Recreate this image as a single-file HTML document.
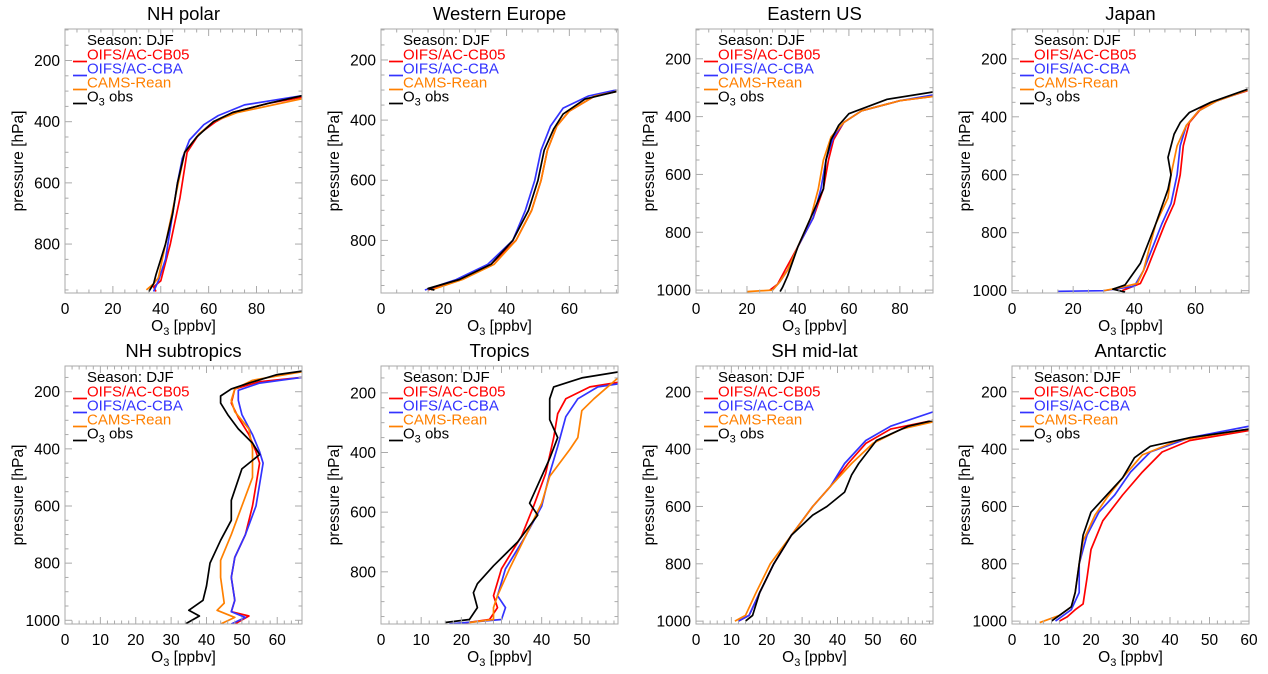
<!DOCTYPE html>
<html><head><meta charset="utf-8">
<style>
body{margin:0;background:#fff;}
svg{display:block;font-family:"Liberation Sans",Arial,sans-serif;}
</style></head>
<body>
<svg id="fig" width="1268" height="674" viewBox="0 0 1268 674" xmlns="http://www.w3.org/2000/svg"></svg>
<script>
// ---- data: [O3 ppbv, pressure hPa] ----
const nhPolarObs=[[35,955],[37,930],[38,900],[42,800],[45,700],[47,600],[50,500],[55,450],[62,400],[70,370],[85,340],[99,315]];
const nhPolarCB05=[[38,955],[37,940],[40,920],[44,800],[48,650],[51,500],[56,440],[63,400],[70,370],[85,340],[99,320]];
const nhPolarCBA=[[37,955],[39,920],[42,850],[44,750],[47,600],[49,520],[52,460],[58,410],[64,380],[75,345],[99,315]];
const nhPolarCAMS=[[34,950],[37,930],[39,910],[42,800],[46,650],[50,500],[56,440],[62,400],[72,370],[99,325]];

const weObs=[[17,965],[15,960],[25,930],[35,880],[42,800],[47,700],[50,600],[52,500],[55,430],[58,380],[65,330],[75,305]];
const weCB05=[[15,965],[25,930],[35,880],[43,800],[48,700],[51,600],[53,500],[56,420],[60,370],[68,320],[75,305]];
const weCBA=[[14,965],[24,930],[34,880],[42,800],[46,700],[49,600],[51,500],[54,420],[58,360],[66,320],[75,300]];
const weCAMS=[[16,965],[26,930],[36,880],[43,800],[48,700],[51,600],[53,500],[56,420],[60,370],[68,320],[75,305]];

const eusObs=[[33,1005],[34,990],[36,950],[40,850],[45,750],[50,650],[51,550],[53,480],[56,430],[60,390],[75,340],[93,315]];
const eusCB05=[[29,1000],[32,980],[35,930],[40,850],[46,750],[50,650],[52,550],[54,480],[58,420],[65,380],[80,345],[93,330]];
const eusCBA=[[30,1000],[33,970],[36,930],[40,850],[46,750],[49,650],[51,550],[54,470],[58,420],[65,380],[80,345],[93,325]];
const eusCAMS=[[20,1005],[30,1000],[33,970],[36,930],[40,850],[45,750],[48,650],[50,550],[53,470],[58,420],[65,380],[80,345],[93,330]];

const jpObs=[[37,1005],[33,995],[37,980],[42,905],[47,770],[51,650],[52,600],[51,540],[53,460],[55,420],[58,385],[65,350],[77,305]];
const jpCB05=[[36,1000],[42,975],[44,930],[47,850],[50,770],[53,700],[55,600],[56,500],[58,420],[62,370],[68,340],[77,310]];
const jpCBA=[[15,1002],[30,1000],[40,985],[43,930],[46,850],[49,770],[52,700],[54,600],[55,500],[57,430],[61,380],[67,345],[77,308]];
const jpCAMS=[[30,1000],[35,990],[41,975],[43,930],[45,850],[47,770],[51,680],[52,600],[54,500],[57,430],[61,380],[67,345],[77,308]];

const stObs=[[34,1013],[38,985],[35,965],[39,930],[40,880],[41,800],[44,720],[47,650],[47,580],[50,470],[55,420],[53,380],[49,330],[46,280],[44,240],[44,215],[47,190],[52,170],[60,140],[67,128]];
const stCB05=[[48,1013],[52,985],[47,970],[48,930],[47,850],[48,780],[51,700],[53,600],[55,450],[54,410],[52,350],[49,290],[47,240],[48,190],[55,165],[67,150]];
const stCBA=[[47,1013],[51,990],[47,970],[48,930],[47,850],[48,780],[51,700],[54,600],[56,450],[55,410],[53,350],[50,280],[49,230],[49,195],[55,170],[67,150]];
const stCAMS=[[44,1013],[48,990],[43,965],[45,940],[44,850],[44,790],[47,700],[50,600],[53,500],[53,400],[52,330],[48,270],[47,230],[48,190],[53,160],[67,130]];

const trObs=[[16,970],[22,960],[24,920],[23,870],[24,840],[28,780],[34,700],[39,610],[37,570],[41,450],[42,420],[44,350],[42,290],[42,220],[43,180],[50,150],[59,130]];
const trCB05=[[19,975],[27,960],[29,920],[28,880],[30,790],[35,680],[38,580],[41,470],[43,350],[44,270],[46,220],[52,180],[59,165]];
const trCBA=[[17,975],[30,960],[31,920],[29,880],[31,790],[36,680],[40,580],[42,470],[44,380],[46,280],[49,220],[54,180],[59,170]];
const trCAMS=[[22,970],[28,960],[28,920],[29,880],[32,790],[36,680],[40,570],[42,480],[47,390],[49,350],[50,260],[53,220],[59,150]];

const shObs=[[14,1000],[16,980],[18,900],[22,800],[27,700],[33,630],[37,600],[42,550],[44,490],[46,450],[51,370],[60,320],[67,300]];
const shCB05=[[12,1000],[15,980],[18,900],[22,800],[27,700],[33,600],[38,530],[43,450],[48,380],[55,330],[67,300]];
const shCBA=[[12,1000],[15,980],[18,900],[22,800],[27,700],[33,600],[38,530],[42,450],[48,370],[55,320],[67,270]];
const shCAMS=[[11,1000],[14,980],[17,900],[21,800],[27,700],[33,600],[38,530],[44,450],[50,380],[58,330],[67,305]];

const anObs=[[10,1000],[12,980],[15,950],[16,900],[17,800],[18,700],[20,620],[24,560],[28,500],[31,430],[35,390],[45,360],[60,330]];
const anCB05=[[12,1000],[14,985],[16,960],[18,940],[19,850],[20,750],[23,650],[28,560],[33,480],[38,410],[45,370],[60,335]];
const anCBA=[[11,1000],[13,980],[15,960],[17,900],[17,800],[19,700],[22,620],[26,560],[30,480],[35,410],[45,360],[60,320]];
const anCAMS=[[7,1005],[12,980],[15,950],[16,900],[17,800],[18,720],[21,630],[24,570],[28,500],[33,420],[42,370],[60,330]];

const panelTitles=["NH polar","Western Europe","Eastern US","Japan","NH subtropics","Tropics","SH mid-lat","Antarctic"];
const xMaxes=[99,75.5,93,77.5,67,59,67,60];
const xSteps=[20,20,20,20,10,10,10,10];
const pMins=[97,97,97,97,110,110,110,110];
const pMaxes=[960,975,1010,1008,1013,975,1010,1010];
const legendLabels=["OIFS/AC-CB05","OIFS/AC-CBA","CAMS-Rean","obs"];
const seriesColors=["#ff0000","#3333ff","#ff8000","#000000"];
const panelSeries=[
 [nhPolarCB05,nhPolarCBA,nhPolarCAMS,nhPolarObs],
 [weCB05,weCBA,weCAMS,weObs],
 [eusCB05,eusCBA,eusCAMS,eusObs],
 [jpCB05,jpCBA,jpCAMS,jpObs],
 [stCB05,stCBA,stCAMS,stObs],
 [trCB05,trCBA,trCAMS,trObs],
 [shCB05,shCBA,shCAMS,shObs],
 [anCB05,anCBA,anCAMS,anObs]];

const NS="http://www.w3.org/2000/svg";
const svg=document.getElementById('fig');
function mk(tag,attrs,parent){const e=document.createElementNS(NS,tag);for(const k in attrs)e.setAttribute(k,attrs[k]);(parent||svg).appendChild(e);return e;}

const colLefts=[65,381,696,1012];
const rowTops=[29,366];
const W=237,H=[264,258];

panelTitles.forEach((title,i)=>{
  const L=colLefts[i%4], T=rowTops[Math.floor(i/4)], h=H[Math.floor(i/4)];
  const xmax=xMaxes[i], pmin=pMins[i], pmax=pMaxes[i];
  const sx=v=>L+v/xmax*W;
  const sy=p=>T+(p-pmin)/(pmax-pmin)*h;
  const g=mk('g',{});
  
  
  const t=mk('text',{x:L+W/2,y:T-9,'font-size':18.5,'text-anchor':'middle',fill:'#000'},g);
  t.textContent=title;
  
  
  const clipId='clip'+i;
  const cp=mk('clipPath',{id:clipId},g);mk('rect',{x:L,y:T,width:W,height:h},cp);
  panelSeries[i].forEach((ser,k)=>{
    const d=ser.map((pt,j)=>(j?'L':'M')+sx(pt[0]).toFixed(1)+','+sy(pt[1]).toFixed(1)).join(' ');
    const path=mk('path',{d:d,fill:'none',stroke:seriesColors[k],'stroke-width':1.7,'clip-path':'url(#'+clipId+')','stroke-linejoin':'round'},g);
    
    
  });
  const box=mk('rect',{x:L,y:T,width:W,height:h,fill:'none',stroke:'#aaa','stroke-width':1},g);
  
  
  const xs=xSteps[i], minor=xs/(xs===20?4:5);
  for(let v=0;v<=xmax+1e-6;v+=minor){
    const isMaj=Math.abs(v/xs-Math.round(v/xs))<1e-6, len=isMaj?7:3.5, x=sx(v);
    mk('line',{x1:x,y1:T+h,x2:x,y2:T+h-len,stroke:'#aaa'},g);
    mk('line',{x1:x,y1:T,x2:x,y2:T+len,stroke:'#aaa'},g);
    if(isMaj){const tl=mk('text',{x:x,y:T+h+21,'font-size':15.5,'text-anchor':'middle'},g);tl.textContent=Math.round(v);
      }
  }
  for(let p=Math.ceil(pmin/50)*50;p<=pmax;p+=50){
    const isMaj=p%200===0, len=isMaj?7:3.5, y=sy(p);
    mk('line',{x1:L,y1:y,x2:L+len,y2:y,stroke:'#aaa'},g);
    mk('line',{x1:L+W,y1:y,x2:L+W-len,y2:y,stroke:'#aaa'},g);
    if(isMaj){const tl=mk('text',{x:L-5,y:y+5.5,'font-size':15.5,'text-anchor':'end'},g);tl.textContent=p;
      }
  }
  const xl=mk('text',{x:L+W/2,y:T+h+38,'font-size':15.5,'text-anchor':'middle'},g);
  xl.innerHTML='O<tspan font-size="11" dy="4">3</tspan><tspan dy="-4"> [ppbv]</tspan>';
  
  const yl=mk('text',{x:0,y:0,'font-size':15.5,'text-anchor':'middle',transform:'translate('+(L-42)+','+(T+h/2)+') rotate(-90)'},g);
  yl.textContent='pressure [hPa]';
  
  const lg=mk('g',{},g);
  
  const st=mk('text',{x:L+22,y:T+16,'font-size':15,fill:'#000'},lg);st.textContent='Season: DJF';
  
  legendLabels.forEach((lab,k)=>{
    const y=T+30.5+k*14;
    mk('line',{x1:L+8,y1:y+2,x2:L+22,y2:y+2,stroke:seriesColors[k],'stroke-width':1.7},lg);
    const tx=mk('text',{x:L+22,y:y,'font-size':15,fill:seriesColors[k]},lg);
    if(k===3){tx.innerHTML='O<tspan font-size="11" dy="4">3</tspan><tspan dy="-4"> obs</tspan>';}
    else tx.textContent=lab;
    
    
  });
});
</script>
</body></html>
